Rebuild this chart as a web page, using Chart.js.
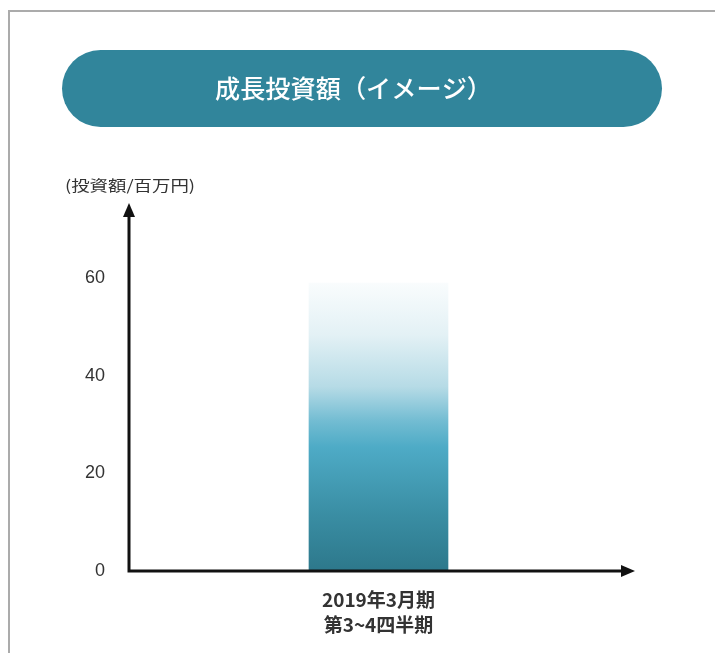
<!DOCTYPE html>
<html>
<head>
<meta charset="utf-8">
<script src="https://cdn.jsdelivr.net/npm/chart.js@4/dist/chart.umd.min.js"></script>
<style>
  html, body { margin: 0; padding: 0; background: #fff; }
  canvas { display: block; }
</style>
</head>
<body>
<canvas id="growthChart" width="715" height="653"></canvas>
<script>
const titleText = "成長投資額（イメージ）";
const unitText = "(投資額/百万円)";
const periods = [["2019年3月期", "第3~4四半期"]];
const investment = [59];
const yTicks = [0, 20, 40, 60];

const FONT = "'Noto Sans CJK JP', 'Noto Sans', sans-serif";

// text squeezed/stretched horizontally to a given width
function fitText(c, text, x, y, width) {
  const w = c.measureText(text).width;
  c.save();
  c.translate(x, y);
  c.scale(width / w, 1);
  c.fillText(text, 0, 0);
  c.restore();
}

// frame, title pill, unit label and the arrowed axes
const decorations = {
  id: "decorations",
  beforeDraw(chart) {
    const c = chart.ctx;
    c.save();
    c.fillStyle = "#fff";
    c.fillRect(0, 0, chart.width, chart.height);

    c.strokeStyle = "#ababab";
    c.lineWidth = 2;
    c.beginPath();
    c.moveTo(9, chart.height);
    c.lineTo(9, 11);
    c.lineTo(chart.width, 11);
    c.stroke();

    const x0 = 62, x1 = 662, y0 = 50, y1 = 127, r = (y1 - y0) / 2;
    c.fillStyle = "#31859b";
    c.beginPath();
    c.moveTo(x0 + r, y0);
    c.lineTo(x1 - r, y0);
    c.arc(x1 - r, y0 + r, r, -Math.PI / 2, Math.PI / 2);
    c.lineTo(x0 + r, y1);
    c.arc(x0 + r, y0 + r, r, Math.PI / 2, Math.PI * 1.5);
    c.closePath();
    c.fill();

    c.fillStyle = "#fff";
    c.font = "500 25px " + FONT;
    c.textAlign = "left";
    c.textBaseline = "middle";
    fitText(c, titleText, 215, 88, 277);

    c.fillStyle = "#333";
    c.font = "15px " + FONT;
    fitText(c, unitText, 65, 185, 130);
    c.restore();
  },
  afterDatasetsDraw(chart) {
    const c = chart.ctx;
    const a = chart.chartArea;
    const tipX = a.right + 6;
    c.save();
    c.strokeStyle = "#111";
    c.fillStyle = "#111";
    c.lineWidth = 3;
    c.beginPath();
    c.moveTo(a.left, a.top + 8);
    c.lineTo(a.left, a.bottom);
    c.lineTo(tipX - 8, a.bottom);
    c.stroke();
    // arrow heads
    c.beginPath();
    c.moveTo(a.left, a.top - 2);
    c.lineTo(a.left - 6, a.top + 12);
    c.lineTo(a.left + 6, a.top + 12);
    c.closePath();
    c.fill();
    c.beginPath();
    c.moveTo(tipX + 1, a.bottom);
    c.lineTo(tipX - 13, a.bottom - 6);
    c.lineTo(tipX - 13, a.bottom + 6);
    c.closePath();
    c.fill();
    c.restore();
  }
};

function barGradient(context) {
  const chart = context.chart;
  if (!chart.chartArea) return "#3a8fa5";
  const y = chart.scales.y;
  const g = chart.ctx.createLinearGradient(0, y.getPixelForValue(0), 0, y.getPixelForValue(investment[0]));
  g.addColorStop(0, "#2d788b");
  g.addColorStop(0.2, "#3a8ea4");
  g.addColorStop(0.43, "#4eabc6");
  g.addColorStop(0.52, "#72bcd2");
  g.addColorStop(0.64, "#b6dbe6");
  g.addColorStop(0.82, "#e3f1f5");
  g.addColorStop(1, "#f9fcfd");
  return g;
}

new Chart(document.getElementById("growthChart"), {
  type: "bar",
  data: {
    labels: periods,
    datasets: [{
      data: investment,
      backgroundColor: barGradient,
      borderWidth: 0,
      barThickness: 139
    }]
  },
  options: {
    responsive: false,
    animation: false,
    layout: { padding: { top: 205, right: 87, left: 0, bottom: 0 } },
    plugins: { legend: { display: false }, tooltip: { enabled: false } },
    scales: {
      x: {
        grid: { display: false, drawTicks: false },
        border: { display: false },
        ticks: {
          color: "#333",
          padding: 16,
          font: { family: FONT, size: 19, weight: "bold", lineHeight: 1.32 }
        },
        afterFit(scale) { scale.height = 82; }
      },
      y: {
        min: 0,
        max: 75,
        grid: { display: false, drawTicks: false },
        border: { display: false },
        afterBuildTicks(scale) { scale.ticks = yTicks.map(v => ({ value: v })); },
        ticks: {
          color: "#333",
          padding: 24,
          font: { family: "'Liberation Sans', Arial, sans-serif", size: 18 }
        },
        afterFit(scale) { scale.width = 129; }
      }
    }
  },
  plugins: [decorations]
});
</script>
</body>
</html>
